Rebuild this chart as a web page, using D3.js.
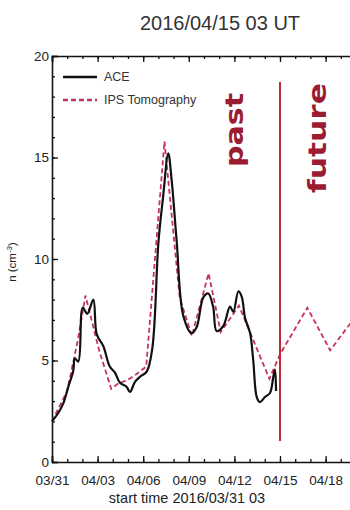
<!DOCTYPE html>
<html>
<head>
<meta charset="utf-8">
<script src="https://cdn.jsdelivr.net/npm/d3@7"></script>
<style>
  body { margin: 0; background: #fff; }
  svg { display: block; font-family: "Liberation Sans", Arial, sans-serif; }
</style>
</head>
<body>
<svg width="350" height="510"></svg>
<script>
const width = 350;
const height = 510;

// days since 2016/03/31 03 UT
const aceDay = [0, 0.4, 0.75, 1.07, 1.4, 1.5, 1.73, 2.02, 2.32, 2.72, 2.94, 3.38, 3.8, 4.14, 4.47, 4.91, 5.13, 5.46, 5.79, 6.23, 6.6, 7.0, 7.3, 7.65, 7.87, 8.2, 8.64, 9.19, 9.52, 9.95, 10.28, 10.6, 10.83, 11.27, 11.71, 11.93, 12.26, 12.48, 12.7, 13.03, 13.24, 13.47, 13.68, 14.01, 14.34, 14.56, 14.67, 14.74];
const aceVal = [2.0, 2.4, 2.9, 3.7, 4.5, 5.1, 4.95, 7.6, 7.3, 8.0, 6.3, 5.7, 4.7, 4.4, 3.9, 3.7, 3.45, 3.95, 4.2, 4.45, 5.6, 10.8, 13.0, 15.2, 13.9, 10.9, 7.2, 6.35, 6.65, 8.1, 8.3, 7.65, 6.45, 6.7, 7.65, 7.4, 8.4, 8.15, 7.1, 6.35, 5.0, 3.2, 2.95, 3.2, 3.4, 4.2, 4.55, 3.5];

const ipsDay = [0, 1, 1.7, 2.2, 3.1, 3.9, 4.4, 4.9, 5.5, 6.2, 7.4, 8.4, 9.2, 10.3, 11.1, 12.3, 14.3, 15.0, 16.8, 18.3, 20];
const ipsVal = [2.0, 3.5, 6.0, 8.2, 5.5, 3.6, 3.9, 4.0, 4.3, 4.7, 15.8, 8.1, 6.2, 9.3, 6.4, 7.7, 4.1, 5.3, 7.6, 5.5, 7.2];

const xTickDays = [0, 3, 6, 9, 12, 15, 18];
const xTickLabels = ["03/31", "04/03", "04/06", "04/09", "04/12", "04/15", "04/18"];
const yTicks = [0, 5, 10, 15, 20];
const nowDay = 15;

const margin = { left: 52, top: 56, bottom: 48 };

const svg = d3.select("svg");

let x = d3.scaleLinear().domain([0, 20]).range([margin.left, 356]);
let y = d3.scaleLinear().domain([0, 20]).range([height - margin.bottom, margin.top]);

// title
svg.append("text")
  .attr("x", 220).attr("y", 30)
  .attr("text-anchor", "middle")
  .attr("font-size", 20)
  .attr("fill", "#333")
  .text("2016/04/15 03 UT");

const g = svg.append("g");

// minor ticks
g.append("g")
  .attr("transform", `translate(0,${y(0)})`)
  .call(d3.axisBottom(x).tickValues(d3.range(0, 21)).tickSize(-3).tickFormat(""))
  .call(a => a.select(".domain").remove());
g.append("g")
  .attr("transform", `translate(0,${y(20)})`)
  .call(d3.axisTop(x).tickValues(d3.range(0, 21)).tickSize(-3).tickFormat(""))
  .call(a => a.select(".domain").remove());
g.append("g")
  .attr("transform", `translate(${x(0)},0)`)
  .call(d3.axisLeft(y).tickValues(d3.range(0, 21)).tickSize(-3).tickFormat(""))
  .call(a => a.select(".domain").remove());

// major ticks + labels
let xAxis = d3.axisBottom(x)
  .tickValues(xTickDays)
  .tickSize(-6)
  .tickPadding(13)
  .tickFormat((d, i) => xTickLabels[i]);

g.append("g")
  .attr("transform", `translate(0,${y(0)})`)
  .call(xAxis)
  .call(a => a.selectAll("text").attr("font-size", 13.5).attr("fill", "#222"));

g.append("g")
  .attr("transform", `translate(0,${y(20)})`)
  .call(d3.axisTop(x).tickValues(xTickDays).tickSize(-6).tickFormat(""));

g.append("g")
  .attr("transform", `translate(${x(0)},0)`)
  .call(d3.axisLeft(y).tickValues(yTicks).tickSize(-6).tickPadding(3))
  .call(a => a.selectAll("text").attr("font-size", 13.5).attr("fill", "#222"));

g.selectAll(".domain").attr("stroke-width", 1.6).attr("stroke", "#111");
g.selectAll(".tick line").attr("stroke", "#111").attr("stroke-width", 1.3);

// axis titles
svg.append("text")
  .attr("x", 187).attr("y", 503)
  .attr("text-anchor", "middle")
  .attr("font-size", 14.5)
  .attr("fill", "#222")
  .text("start time 2016/03/31 03");

svg.append("text")
  .attr("transform", `translate(16,262) rotate(-90)`)
  .attr("text-anchor", "middle")
  .attr("font-size", 11.5)
  .attr("fill", "#222")
  .html("n (cm<tspan dy='-4' font-size='8'>-3</tspan><tspan dy='4'>)</tspan>");

// lines
let line = d3.line()
  .x(d => x(d[0]))
  .y(d => y(d[1]));

svg.append("path")
  .datum(ipsDay.map((d, i) => [d, ipsVal[i]]))
  .attr("fill", "none")
  .attr("stroke", "#c8325a")
  .attr("stroke-width", 1.8)
  .attr("stroke-dasharray", "5,3")
  .attr("d", line);

svg.append("path")
  .datum(aceDay.map((d, i) => [d, aceVal[i]]))
  .attr("fill", "none")
  .attr("stroke", "#111")
  .attr("stroke-width", 2.2)
  .attr("stroke-linejoin", "round")
  .attr("d", line.curve(d3.curveCatmullRom));

// now line
svg.append("line")
  .attr("x1", x(nowDay)).attr("x2", x(nowDay))
  .attr("y1", 82).attr("y2", 441)
  .attr("stroke", "#c0282d")
  .attr("stroke-width", 2);

svg.append("text")
  .attr("transform", `translate(243,130) rotate(-90)`)
  .attr("text-anchor", "middle")
  .attr("font-family", "'DejaVu Sans', sans-serif")
  .attr("font-weight", "bold")
  .attr("font-size", 25)
  .attr("fill", "#9b1b30")
  .attr("textLength", 74)
  .attr("lengthAdjust", "spacingAndGlyphs")
  .text("past");

svg.append("text")
  .attr("transform", `translate(326,138) rotate(-90)`)
  .attr("text-anchor", "middle")
  .attr("font-family", "'DejaVu Sans', sans-serif")
  .attr("font-weight", "bold")
  .attr("font-size", 25)
  .attr("fill", "#9b1b30")
  .attr("textLength", 110)
  .attr("lengthAdjust", "spacingAndGlyphs")
  .text("future");

// legend
const legend = svg.append("g");
legend.append("line")
  .attr("x1", 63).attr("x2", 97).attr("y1", 77).attr("y2", 77)
  .attr("stroke", "#111").attr("stroke-width", 2.5);
legend.append("text")
  .attr("x", 104).attr("y", 81)
  .attr("font-size", 12.5).attr("fill", "#333")
  .text("ACE");
legend.append("line")
  .attr("x1", 63).attr("x2", 97).attr("y1", 100).attr("y2", 100)
  .attr("stroke", "#c8325a").attr("stroke-width", 2.5)
  .attr("stroke-dasharray", "5,3");
legend.append("text")
  .attr("x", 104).attr("y", 104)
  .attr("font-size", 12.5).attr("fill", "#333")
  .text("IPS Tomography");
</script>
</body>
</html>
